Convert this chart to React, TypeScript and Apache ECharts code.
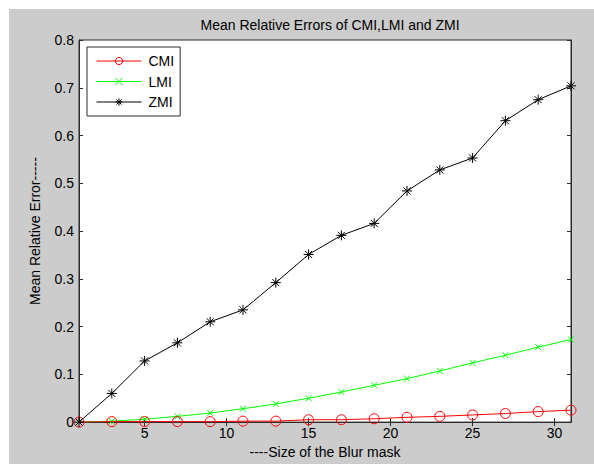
import React, { useEffect, useRef } from "react";
import * as echarts from "echarts";

const blurSizes = [1, 3, 5, 7, 9, 11, 13, 15, 17, 19, 21, 23, 25, 27, 29, 31];
const cmi = [0, 0.001, 0.001, 0.001, 0.001, 0.002, 0.002, 0.005, 0.005, 0.007, 0.01, 0.012, 0.015, 0.018, 0.022, 0.025];
const lmi = [0, 0.002, 0.006, 0.012, 0.019, 0.028, 0.038, 0.05, 0.063, 0.077, 0.091, 0.107, 0.124, 0.14, 0.157, 0.173];
const zmi = [0, 0.06, 0.128, 0.166, 0.21, 0.235, 0.292, 0.351, 0.391, 0.416, 0.484, 0.528, 0.553, 0.631, 0.675, 0.704];
const xTicks = [5, 10, 15, 20, 25, 30];

const FONT = "Liberation Sans, Arial, sans-serif";
const AXIS_COLOR = "#2b2b2b";

const starPath = "path://M5,0L5,10M0,5L10,5M1.5,1.5L8.5,8.5M8.5,1.5L1.5,8.5";
const xPath = "path://M0,0L10,10M10,0L0,10";

export default function App() {
  const ref = useRef<HTMLDivElement>(null);
  useEffect(() => {
    if (!ref.current) return;
    const chart = echarts.init(ref.current, undefined, { renderer: "svg" });
    const pair = (ys: number[]) => blurSizes.map((x, i) => [x, ys[i]]);
    const baseX = {
      type: "value",
      min: 1,
      max: 31,
      axisLine: { show: true, lineStyle: { color: AXIS_COLOR, width: 1 } },
      splitLine: { show: false },
    };
    const baseY = {
      type: "value",
      min: 0,
      max: 0.8,
      interval: 0.1,
      axisLine: { show: true, lineStyle: { color: AXIS_COLOR, width: 1 } },
      splitLine: { show: false },
    };
    chart.setOption({
      animation: false,
      backgroundColor: "#ffffff",
      graphic: [
        {
          type: "rect",
          z: -10,
          silent: true,
          shape: { x: 9, y: 9, width: 600, height: 460 },
          style: { fill: "#cccccc" },
        },
      ],
      title: {
        text: "Mean Relative Errors of CMI,LMI and ZMI",
        left: 325,
        top: 13,
        textAlign: "center",
        textStyle: { fontFamily: FONT, fontSize: 14, fontWeight: "normal", color: "#000" },
      },
      grid: {
        left: 79,
        top: 40,
        right: 23,
        bottom: 38,
        show: true,
        backgroundColor: "#ffffff",
        borderColor: AXIS_COLOR,
        borderWidth: 1,
      },
      legend: {
        orient: "vertical",
        left: 87,
        top: 47,
        backgroundColor: "#ffffff",
        borderColor: AXIS_COLOR,
        borderWidth: 1,
        borderRadius: 0,
        padding: [6, 6, 6, 9],
        itemWidth: 45,
        itemHeight: 9,
        itemGap: 4.5,
        lineStyle: { width: 1 },
        itemStyle: { borderWidth: 1 },
        textStyle: { fontFamily: FONT, fontSize: 14, lineHeight: 16, color: "#000", padding: [0, 0, 0, 2] },
        data: ["CMI", "LMI", "ZMI"],
      },
      xAxis: [
        {
          ...baseX,
          position: "bottom",
          name: "----Size of the Blur mask",
          nameLocation: "middle",
          nameGap: 22,
          nameTextStyle: { fontFamily: FONT, fontSize: 14, color: "#000" },
          axisTick: { show: true, inside: true, length: 4, customValues: xTicks, lineStyle: { color: AXIS_COLOR } },
          axisLabel: { show: true, customValues: xTicks, margin: 4, fontFamily: FONT, fontSize: 14, color: "#000" },
        },
        {
          ...baseX,
          position: "top",
          axisTick: { show: true, inside: true, length: 4, customValues: xTicks, lineStyle: { color: AXIS_COLOR } },
          axisLabel: { show: false },
        },
      ],
      yAxis: [
        {
          ...baseY,
          position: "left",
          name: "Mean Relative Error-----",
          nameLocation: "middle",
          nameGap: 37,
          nameTextStyle: { fontFamily: FONT, fontSize: 14, color: "#000" },
          axisTick: { show: true, inside: true, length: 4, lineStyle: { color: AXIS_COLOR } },
          axisLabel: { show: true, margin: 5, fontFamily: FONT, fontSize: 14, color: "#000" },
        },
        {
          ...baseY,
          position: "right",
          axisTick: { show: true, inside: true, length: 4, lineStyle: { color: AXIS_COLOR } },
          axisLabel: { show: false },
        },
      ],
      series: [
        {
          name: "CMI",
          type: "line",
          data: pair(cmi),
          symbol: "circle",
          symbolSize: 10,
          showAllSymbol: true,
          lineStyle: { color: "#ff0000", width: 1 },
          itemStyle: { color: "rgba(0,0,0,0)", borderColor: "#ff0000", borderWidth: 1 },
          z: 3,
        },
        {
          name: "LMI",
          type: "line",
          data: pair(lmi),
          symbol: xPath,
          symbolSize: 6,
          showAllSymbol: true,
          lineStyle: { color: "#00ff00", width: 1 },
          itemStyle: { color: "#00ff00", borderColor: "#00ff00", borderWidth: 1 },
          z: 2,
        },
        {
          name: "ZMI",
          type: "line",
          data: pair(zmi),
          symbol: starPath,
          symbolSize: 10,
          showAllSymbol: true,
          lineStyle: { color: "#000000", width: 1 },
          itemStyle: { color: "#000000", borderColor: "#000000", borderWidth: 1 },
          z: 4,
        },
      ],
    });
    return () => chart.dispose();
  }, []);
  return (
    <div
      ref={ref}
      style={{ position: "fixed", left: 0, top: 0, width: 594, height: 464 }}
    />
  );
}
